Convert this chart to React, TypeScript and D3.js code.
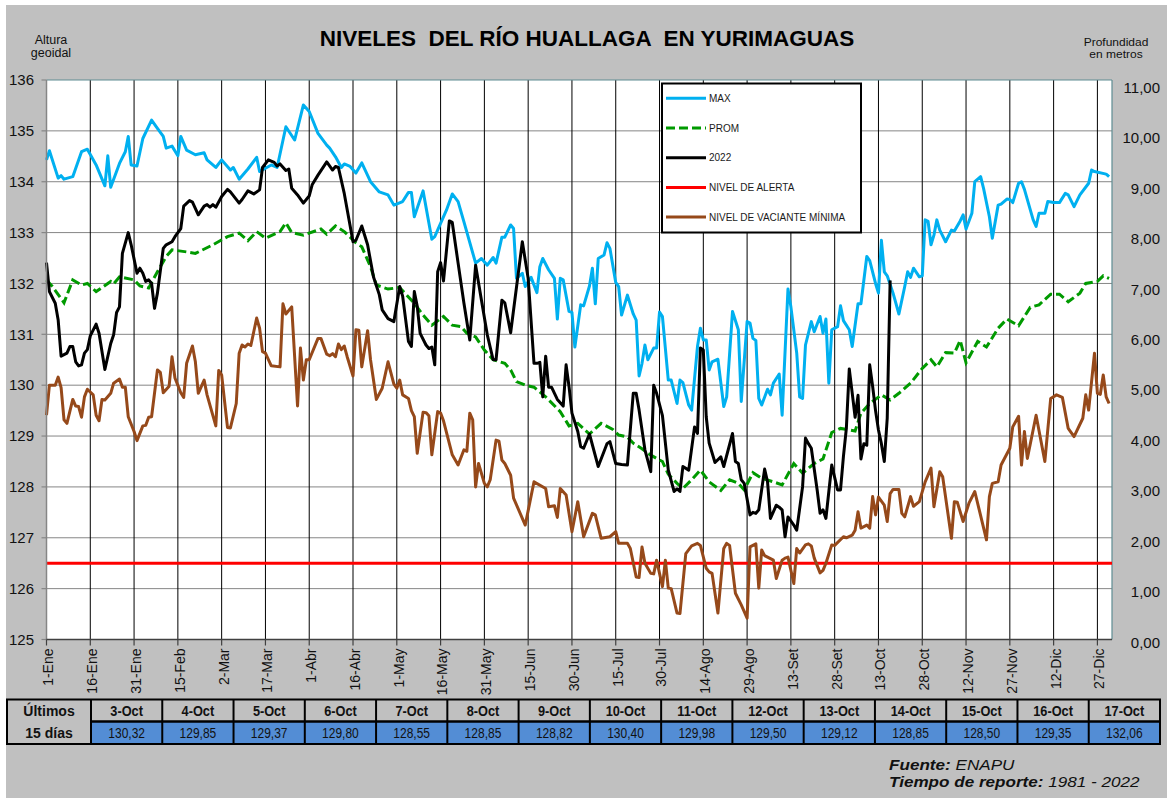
import React from 'react';
import * as d3 from 'd3';

// day-of-year tick labels every 15 days
const dayTicks = ['1-Ene', '16-Ene', '31-Ene', '15-Feb', '2-Mar', '17-Mar', '1-Abr', '16-Abr', '1-May', '16-May', '31-May', '15-Jun', '30-Jun', '15-Jul', '30-Jul', '14-Ago', '29-Ago', '13-Set', '28-Set', '13-Oct', '28-Oct', '12-Nov', '27-Nov', '12-Dic', '27-Dic'];
const tickStep = 15;

const levelTicks = [125, 126, 127, 128, 129, 130, 131, 132, 133, 134, 135, 136];
const depthTicks = [0, 1, 2, 3, 4, 5, 6, 7, 8, 9, 10, 11];

// last 15 days table
const lastDays = ['3-Oct', '4-Oct', '5-Oct', '6-Oct', '7-Oct', '8-Oct', '9-Oct', '10-Oct', '11-Oct', '12-Oct', '13-Oct', '14-Oct', '15-Oct', '16-Oct', '17-Oct'];
const lastValues = [130.32, 129.85, 129.37, 129.80, 128.55, 128.85, 128.82, 130.40, 129.98, 129.50, 129.12, 128.85, 128.50, 129.35, 132.06];
const lastStartDay = 275;

const alertLevel = 126.5;

// [day of year, level]
const maxSeries: [number, number][] = [
  [0, 134.43], [1, 134.61], [4, 134.07], [5, 134.12], [6, 134.05], [9, 134.1], [12, 134.59], [14, 134.64], [17, 134.33], [20, 133.92],
  [21, 134.51], [22, 133.89], [25, 134.36], [27, 134.59], [28, 134.89], [29, 134.33], [31, 134.31], [33, 134.85], [36, 135.21], [38, 135.05],
  [40, 134.89], [41, 134.66], [43, 134.7], [45, 134.51], [46, 134.89], [48, 134.62], [51, 134.53], [54, 134.57], [55, 134.43], [58, 134.28],
  [60, 134.43], [63, 134.23], [64, 134.28], [66, 134.05], [69, 134.25], [72, 134.48], [73, 134.2], [77, 134.33], [79, 134.28], [82, 135.08],
  [85, 134.82], [88, 135.51], [90, 135.38], [93, 134.95], [96, 134.72], [97, 134.66], [99, 134.49], [101, 134.28], [102, 134.35], [104, 134.3],
  [106, 134.17], [108, 134.37], [111, 134.0], [114, 133.8], [117, 133.74], [119, 133.54], [122, 133.61], [124, 133.79], [125, 133.79], [126, 133.31],
  [129, 133.82], [132, 132.87], [133, 132.92], [137, 133.44], [139, 133.76], [141, 133.61], [143, 133.21], [147, 132.4], [149, 132.49], [151, 132.36],
  [153, 132.51], [154, 132.4], [156, 132.91], [157, 132.91], [159, 133.15], [160, 133.08], [161, 132.1], [163, 132.2], [164, 131.94], [165, 132.03],
  [166, 132.12], [168, 131.82], [169, 132.33], [170, 132.49], [172, 132.27], [174, 132.1], [175, 131.3], [176, 132.1], [177, 132.07], [179, 131.45],
  [180, 131.43], [181, 130.75], [183, 131.58], [184, 131.56], [186, 131.95], [187, 132.3], [188, 131.6], [189, 132.49], [191, 132.56], [192, 132.8],
  [193, 132.69], [195, 132.02], [196, 131.94], [197, 131.38], [199, 131.77], [201, 131.4], [202, 131.28], [203, 130.18], [204, 130.43], [205, 130.79],
  [206, 130.5], [208, 130.73], [209, 130.73], [210, 131.44], [211, 131.35], [213, 130.1], [214, 130.1], [216, 129.64], [217, 130.1], [218, 130.05],
  [220, 129.61], [221, 129.51], [223, 130.76], [224, 131.12], [225, 130.89], [226, 130.89], [227, 130.3], [228, 130.46], [230, 130.51], [232, 129.58],
  [233, 129.77], [235, 131.45], [237, 131.09], [238, 129.68], [240, 131.25], [241, 131.22], [242, 130.92], [243, 130.88], [244, 129.74], [245, 129.61],
  [247, 129.92], [248, 129.81], [249, 130.04], [251, 130.22], [252, 129.41], [254, 131.89], [255, 131.54], [257, 130.63], [258, 129.77], [259, 129.74],
  [260, 130.79], [262, 131.25], [263, 131.05], [265, 131.35], [266, 131.02], [267, 131.3], [268, 130.04], [269, 131.09], [271, 131.15], [272, 131.56],
  [273, 131.27], [275, 131.09], [276, 130.76], [278, 131.6], [279, 131.6], [281, 132.53], [282, 132.45], [284, 132.0], [285, 131.81], [286, 132.85],
  [287, 132.23], [288, 132.15], [290, 131.81], [292, 131.4], [294, 131.94], [295, 132.23], [296, 132.12], [297, 132.3], [299, 132.13], [300, 132.15],
  [301, 133.25], [302, 133.22], [303, 132.76], [304, 132.95], [305, 133.25], [306, 133.05], [308, 132.82], [310, 133.05], [311, 133.03], [313, 133.23],
  [314, 133.35], [315, 133.07], [317, 133.38], [318, 134.0], [320, 134.1], [321, 133.87], [323, 133.31], [324, 132.89], [326, 133.54], [327, 133.56],
  [329, 133.66], [330, 133.65], [331, 133.59], [333, 133.97], [334, 134.0], [335, 133.85], [338, 133.25], [339, 133.12], [340, 133.38], [342, 133.38],
  [343, 133.61], [345, 133.59], [347, 133.59], [349, 133.77], [350, 133.74], [352, 133.51], [354, 133.74], [357, 133.97], [358, 134.23], [359, 134.2],
  [363, 134.15], [364, 134.1],
];

const promSeries: [number, number][] = [
  [0, 132.07], [2, 131.94], [6, 131.62], [9, 132.07], [12, 131.97], [14, 132.0], [17, 131.84], [22, 132.04], [23, 131.99], [25, 132.13],
  [30, 132.07], [32, 131.95], [35, 131.91], [38, 132.23], [41, 132.53], [43, 132.66], [48, 132.62], [51, 132.59], [57, 132.76], [62, 132.92],
  [66, 132.99], [69, 132.84], [72, 133.02], [75, 132.89], [80, 133.02], [82, 133.19], [84, 133.0], [88, 132.95], [94, 133.07], [96, 132.97],
  [99, 133.13], [102, 133.02], [106, 132.8], [108, 132.72], [111, 132.33], [113, 131.97], [117, 131.89], [121, 131.92], [126, 131.61], [129, 131.38],
  [132, 131.18], [136, 131.35], [139, 131.18], [142, 131.15], [144, 131.02], [147, 130.95], [150, 130.69], [153, 130.5], [157, 130.43], [159, 130.3],
  [161, 130.07], [164, 130.0], [167, 129.96], [171, 129.77], [176, 129.48], [179, 129.2], [182, 129.25], [186, 129.04], [190, 129.25], [194, 129.13],
  [196, 129.02], [199, 128.98], [201, 128.86], [204, 128.75], [206, 128.66], [209, 128.56], [211, 128.5], [213, 128.25], [216, 128.07], [218, 127.97],
  [221, 128.14], [224, 128.33], [227, 128.1], [231, 127.93], [234, 128.14], [237, 128.07], [239, 127.94], [242, 128.28], [245, 128.17], [249, 128.1],
  [252, 128.04], [256, 128.46], [259, 128.27], [263, 128.46], [266, 128.55], [269, 129.07], [272, 129.15], [277, 129.1], [279, 129.45], [282, 129.64],
  [286, 129.81], [289, 129.71], [292, 129.84], [296, 130.04], [300, 130.33], [303, 130.5], [305, 130.36], [308, 130.64], [311, 130.63], [313, 130.88],
  [315, 130.44], [319, 130.86], [322, 130.75], [326, 131.12], [329, 131.3], [333, 131.17], [337, 131.53], [340, 131.58], [344, 131.79], [347, 131.79],
  [350, 131.64], [354, 131.81], [356, 132.0], [360, 132.04], [362, 132.15], [364, 132.1],
];

// 2022 up to 2-Oct; the last 15 days come from lastValues
const series2022: [number, number][] = [
  [0, 132.41], [1, 131.84], [3, 131.61], [4, 131.28], [5, 130.57], [7, 130.63], [8, 130.76], [9, 130.76], [10, 130.46], [11, 130.38],
  [12, 130.4], [13, 130.63], [14, 130.7], [15, 130.97], [17, 131.2], [18, 131.02], [20, 130.31], [22, 130.82], [23, 130.99], [24, 131.43],
  [25, 131.54], [26, 132.59], [28, 133.0], [29, 132.76], [31, 132.2], [32, 132.3], [33, 132.2], [34, 132.04], [35, 132.07], [36, 132.0],
  [37, 131.51], [38, 131.81], [40, 132.69], [41, 132.76], [43, 132.82], [44, 132.92], [46, 133.08], [47, 133.52], [49, 133.63], [50, 133.6],
  [52, 133.35], [54, 133.52], [55, 133.55], [56, 133.5], [57, 133.55], [58, 133.5], [60, 133.71], [62, 133.85], [63, 133.8], [66, 133.58],
  [67, 133.65], [69, 133.82], [71, 133.76], [73, 133.84], [74, 134.28], [76, 134.43], [78, 134.38], [79, 134.31], [80, 134.35], [82, 134.22],
  [83, 134.25], [84, 133.87], [86, 133.74], [88, 133.58], [89, 133.65], [90, 133.72], [91, 133.94], [93, 134.13], [96, 134.39], [98, 134.23],
  [99, 134.3], [100, 134.28], [102, 133.77], [105, 132.82], [106, 132.85], [108, 133.13], [110, 132.76], [112, 132.13], [114, 131.78], [115, 131.48],
  [117, 131.31], [119, 131.25], [121, 131.94], [122, 131.75], [124, 130.86], [125, 130.76], [126, 131.84], [127, 131.55], [128, 131.02], [130, 130.79],
  [131, 130.72], [132, 130.75], [133, 130.4], [134, 132.23], [135, 132.41], [136, 132.05], [138, 133.23], [139, 133.2], [141, 132.4], [143, 131.61],
  [145, 130.89], [147, 132.36], [149, 131.67], [151, 130.99], [153, 130.5], [154, 130.5], [156, 131.67], [157, 131.62], [159, 131.03], [163, 132.82],
  [165, 132.1], [167, 130.43], [168, 130.43], [169, 130.45], [170, 129.77], [171, 130.57], [172, 129.96], [173, 129.96], [175, 129.72], [177, 129.59],
  [178, 130.4], [179, 129.97], [180, 129.45], [182, 129.09], [183, 128.79], [184, 128.76], [186, 129.04], [189, 128.4], [192, 128.85], [193, 128.89],
  [195, 128.46], [197, 128.44], [199, 128.43], [201, 129.84], [202, 129.84], [203, 129.51], [205, 128.73], [207, 128.3], [208, 130.0], [209, 129.84],
  [211, 129.4], [213, 128.33], [215, 127.91], [216, 127.96], [217, 127.91], [218, 128.4], [220, 128.33], [222, 129.18], [223, 129.05], [224, 130.73],
  [225, 130.69], [226, 129.38], [227, 128.86], [229, 128.48], [231, 128.59], [232, 128.4], [235, 129.05], [236, 128.5], [237, 128.46], [238, 128.14],
  [239, 128.07], [241, 127.45], [242, 127.5], [243, 127.48], [244, 127.55], [246, 128.35], [247, 128.1], [248, 127.38], [250, 127.64], [251, 127.6],
  [252, 127.55], [253, 127.02], [254, 127.41], [256, 127.25], [257, 127.15], [259, 128.0], [260, 128.96], [261, 128.85], [262, 128.76], [264, 127.94],
  [265, 127.48], [266, 127.55], [267, 127.38], [268, 127.91], [269, 128.43], [271, 127.94], [272, 127.94], [273, 128.6], [274, 129.15],
];

const minSeries: [number, number][] = [
  [0, 129.41], [1, 130.0], [3, 130.0], [4, 130.16], [5, 129.95], [6, 129.32], [7, 129.25], [9, 129.72], [10, 129.59], [11, 129.58],
  [12, 129.37], [13, 129.77], [14, 129.92], [16, 129.81], [17, 129.41], [18, 129.3], [19, 129.72], [20, 129.71], [22, 129.84], [23, 130.04],
  [25, 130.12], [26, 129.96], [27, 129.96], [28, 129.38], [30, 129.09], [31, 128.91], [33, 129.2], [34, 129.21], [35, 129.37], [36, 129.38],
  [38, 130.3], [39, 130.25], [40, 129.85], [42, 129.98], [43, 130.56], [44, 130.14], [46, 129.85], [47, 129.76], [48, 130.43], [50, 130.77],
  [51, 130.46], [52, 129.84], [54, 130.1], [55, 129.81], [58, 129.2], [59, 130.29], [60, 130.2], [62, 129.17], [63, 129.16], [65, 129.64],
  [66, 130.63], [67, 130.79], [68, 130.75], [69, 130.81], [70, 130.78], [72, 131.32], [73, 131.12], [74, 130.66], [75, 130.63], [77, 130.38],
  [80, 130.36], [81, 131.6], [82, 131.4], [84, 131.54], [86, 129.59], [87, 130.73], [88, 130.1], [89, 130.5], [90, 130.5], [93, 130.92],
  [94, 130.92], [96, 130.61], [97, 130.58], [98, 130.62], [99, 130.56], [100, 130.81], [101, 130.7], [102, 130.77], [103, 130.56], [105, 130.18],
  [106, 131.09], [107, 131.08], [108, 130.36], [110, 131.07], [111, 130.5], [113, 129.72], [115, 129.94], [117, 130.46], [119, 130.02], [120, 129.94],
  [121, 130.1], [122, 129.81], [124, 129.74], [125, 129.5], [126, 129.38], [127, 128.66], [129, 129.47], [130, 129.46], [131, 129.4], [132, 128.63],
  [134, 129.48], [135, 129.45], [136, 129.3], [139, 128.63], [141, 128.43], [143, 128.73], [144, 128.7], [145, 129.45], [146, 129.32], [147, 128.0],
  [148, 128.46], [150, 128.07], [151, 128.0], [152, 128.14], [154, 128.92], [155, 128.9], [156, 128.53], [157, 128.46], [159, 128.23], [160, 127.78],
  [164, 127.25], [167, 128.1], [171, 127.97], [172, 127.61], [174, 127.63], [175, 127.4], [176, 127.97], [178, 127.84], [180, 127.12], [182, 127.71],
  [184, 127.02], [187, 127.48], [188, 127.45], [190, 126.99], [193, 127.02], [195, 127.12], [196, 126.89], [199, 126.89], [200, 126.79], [202, 126.23],
  [203, 126.22], [204, 126.82], [205, 126.5], [207, 126.3], [208, 126.29], [209, 126.56], [211, 126.04], [212, 126.56], [213, 126.01], [214, 126.0],
  [216, 125.52], [217, 125.51], [219, 126.69], [221, 126.84], [223, 126.89], [224, 126.85], [226, 126.4], [227, 126.33], [228, 126.3], [230, 125.52],
  [232, 126.79], [233, 126.89], [234, 126.85], [236, 125.91], [238, 125.68], [240, 125.42], [241, 126.82], [243, 126.88], [244, 126.01], [245, 126.76],
  [246, 126.65], [249, 126.56], [250, 126.2], [252, 126.56], [253, 126.6], [254, 126.62], [256, 126.1], [257, 126.79], [258, 126.7], [260, 126.86],
  [261, 126.88], [262, 126.84], [263, 126.6], [265, 126.31], [266, 126.36], [267, 126.5], [269, 126.86], [270, 126.85], [273, 127.02], [274, 127.0],
  [276, 127.05], [277, 127.15], [278, 127.51], [279, 127.19], [281, 127.25], [282, 127.19], [283, 127.81], [284, 127.45], [285, 127.8], [287, 127.64],
  [288, 127.32], [289, 127.87], [290, 127.95], [292, 127.95], [293, 127.48], [294, 127.41], [296, 127.81], [297, 127.62], [299, 127.71], [301, 128.1],
  [303, 128.37], [304, 127.61], [306, 128.3], [307, 128.2], [310, 126.99], [311, 127.71], [312, 127.7], [314, 127.32], [316, 127.68], [318, 127.91],
  [322, 126.96], [323, 127.81], [324, 128.07], [326, 128.1], [327, 128.43], [330, 128.76], [331, 129.18], [333, 129.39], [334, 128.43], [335, 129.09],
  [336, 128.56], [339, 129.41], [342, 128.5], [344, 129.74], [346, 129.81], [348, 129.76], [350, 129.15], [352, 128.99], [355, 129.35], [356, 129.81],
  [357, 129.51], [359, 130.63], [360, 129.84], [361, 129.82], [362, 130.2], [363, 129.77], [364, 129.64],
];

const legendItems = [
  { label: 'MAX', color: '#00B0F0', dash: '' },
  { label: 'PROM', color: '#009A00', dash: '9,4' },
  { label: '2022', color: '#000000', dash: '' },
  { label: 'NIVEL DE ALERTA', color: '#FF0000', dash: '' },
  { label: 'NIVEL DE VACIANTE MÍNIMA', color: '#96491A', dash: '' },
];

const FONT = '"Liberation Sans", Arial, sans-serif';
const comma = (v: number) => d3.format('.2f')(v).replace('.', ',');

const App: React.FC = () => {
  const width = 1167;
  const height = 798;

  const x = d3.scaleLinear().domain([0, 365]).range([46.5, 1112]);
  const y = d3.scaleLinear().domain([125, 136]).range([639.5, 80]);
  const yDepth = d3.scaleLinear().domain([0, 11]).range([642.5, 87.5]);
  const col = d3.scaleLinear().domain([0, 15]).range([91, 1160]);

  const line = d3.line<[number, number]>()
    .x(d => x(d[0]))
    .y(d => y(d[1]));

  const data2022: [number, number][] = [
    ...series2022,
    ...lastValues.map((v, i) => [lastStartDay + i, v] as [number, number]),
  ];
  const alertData: [number, number][] = [[0, alertLevel], [365, alertLevel]];

  const [x0, x1] = x.range();
  const [yb, yt] = y.range();

  const tableTop = 699.5;
  const tableMid = 721.5;
  const tableBottom = 744;

  return (
    <div style={{ position: 'absolute', left: 0, top: 0 }}>
      <svg width={width} height={height} style={{ display: 'block', background: '#fff' }} fontFamily={FONT}>
        <rect x={6} y={5} width={width - 6} height={height - 5} fill="#C0C0C0" />

        {/* title and axis captions */}
        <text x={587} y={46} textAnchor="middle" fontSize={22.5} fontWeight="bold" style={{ whiteSpace: 'pre' }}>
          NIVELES  DEL RÍO HUALLAGA  EN YURIMAGUAS
        </text>
        <text x={51} y={44} textAnchor="middle" fontSize={12.5} fill="#111">Altura</text>
        <text x={51} y={57} textAnchor="middle" fontSize={12.5} fill="#111">geoidal</text>
        <text transform="translate(1116,46) scale(1.2,1)" textAnchor="middle" fontSize={10} fill="#111">Profundidad</text>
        <text transform="translate(1116,57.5) scale(1.2,1)" textAnchor="middle" fontSize={10} fill="#111">en metros</text>

        {/* plot area */}
        <rect x={x0} y={yt} width={x1 - x0} height={yb - yt} fill="#fff" />
        {levelTicks.slice(1, -1).map(v => (
          <line key={'h' + v} x1={x0} x2={x1} y1={y(v)} y2={y(v)} stroke="#868686" strokeWidth={1} />
        ))}
        {dayTicks.map((_, i) => i > 0 && (
          <line key={'v' + i} x1={x(i * tickStep)} x2={x(i * tickStep)} y1={yt} y2={yb} stroke="#000" strokeWidth={1} />
        ))}
        <line x1={x0} x2={x1} y1={yt} y2={yt} stroke="#5E8C92" strokeWidth={1.2} />
        <line x1={x1} x2={x1} y1={yt} y2={yb} stroke="#5E8C92" strokeWidth={1.2} />

        {/* series */}
        <path d={line(maxSeries) || ''} fill="none" stroke="#00B0F0" strokeWidth={3} strokeLinejoin="round" />
        <path d={line(promSeries) || ''} fill="none" stroke="#009A00" strokeWidth={3} strokeDasharray="9,4" />
        <path d={line(data2022) || ''} fill="none" stroke="#000" strokeWidth={3} strokeLinejoin="round" />
        <path d={line(alertData) || ''} fill="none" stroke="#FF0000" strokeWidth={3} />
        <path d={line(minSeries) || ''} fill="none" stroke="#96491A" strokeWidth={3} strokeLinejoin="round" />

        {/* left axis */}
        <line x1={x0} x2={x0} y1={yt} y2={yb} stroke="#868686" strokeWidth={1.5} />
        {levelTicks.map(v => (
          <g key={'l' + v}>
            <line x1={x0 - 5} x2={x0} y1={y(v)} y2={y(v)} stroke="#868686" strokeWidth={1.2} />
            <text x={34} y={y(v)} dy="0.35em" textAnchor="end" fontSize={15} fill="#111">{v}</text>
          </g>
        ))}

        {/* right depth labels */}
        {depthTicks.map(v => (
          <text key={'r' + v} x={1160} y={yDepth(v)} dy="0.35em" textAnchor="end" fontSize={15} fill="#111">{comma(v)}</text>
        ))}

        {/* bottom axis */}
        <line x1={x0} x2={x1} y1={yb} y2={yb} stroke="#404040" strokeWidth={1.5} />
        {dayTicks.map((lbl, i) => {
          const tx = x(i * tickStep);
          return (
            <g key={'b' + i}>
              <line x1={tx} x2={tx} y1={yb} y2={yb + 6} stroke="#404040" strokeWidth={1.2} />
              <text transform={`translate(${tx + 2},${yb + 9}) rotate(-90)`} dy="0.35em" textAnchor="end" fontSize={14} fill="#111">{lbl}</text>
            </g>
          );
        })}

        {/* legend */}
        <g>
          <rect x={662} y={83.5} width={199} height={149} fill="#fff" stroke="#000" strokeWidth={2} />
          {legendItems.map((it, i) => {
            const ly = 98.3 + i * 29.7;
            return (
              <g key={it.label}>
                <line x1={666} x2={706} y1={ly} y2={ly} stroke={it.color} strokeWidth={3} strokeDasharray={it.dash || undefined} />
                <text x={709} y={ly} dy="0.35em" fontSize={10} fill="#1a1a1a">{it.label}</text>
              </g>
            );
          })}
        </g>

        {/* last 15 days table */}
        <g>
          {lastDays.map((d, i) => (
            <rect key={'c' + i} x={col(i)} y={tableMid} width={col(i + 1) - col(i)} height={tableBottom - tableMid} fill="#538DD5" />
          ))}
          <rect x={7} y={tableTop} width={col(15) - 7} height={tableBottom - tableTop} fill="none" stroke="#000" strokeWidth={2} />
          <line x1={col(0)} x2={col(15)} y1={tableMid} y2={tableMid} stroke="#000" strokeWidth={2.5} />
          {d3.range(16).map(i => (
            <line key={'s' + i} x1={col(i)} x2={col(i)} y1={tableTop} y2={tableBottom} stroke="#000" strokeWidth={2} />
          ))}
          <text x={49} y={711} dy="0.35em" textAnchor="middle" fontSize={14} fontWeight="bold" fill="#111">Últimos</text>
          <text x={49} y={733} dy="0.35em" textAnchor="middle" fontSize={14} fontWeight="bold" fill="#111">15 días</text>
          {lastDays.map((d, i) => {
            const cx = (col(i) + col(i + 1)) / 2;
            return (
              <g key={'t' + i}>
                <text transform={`translate(${cx},${(tableTop + tableMid) / 2}) scale(0.88,1)`} dy="0.36em" textAnchor="middle" fontSize={14.5} fontWeight="bold" fill="#111">{d}</text>
                <text transform={`translate(${cx},${(tableMid + tableBottom) / 2}) scale(0.8,1)`} dy="0.36em" textAnchor="middle" fontSize={15} fill="#111">{comma(lastValues[i])}</text>
              </g>
            );
          })}
        </g>

        {/* source */}
        <text transform="translate(889,770) scale(1.18,1)" fontSize={14.5} fontStyle="italic" fill="#111">
          <tspan fontWeight="bold">Fuente:</tspan> ENAPU
        </text>
        <text transform="translate(889,787) scale(1.18,1)" fontSize={14.5} fontStyle="italic" fill="#111">
          <tspan fontWeight="bold">Tiempo de reporte:</tspan> 1981 - 2022
        </text>
      </svg>
    </div>
  );
};

export default App;
